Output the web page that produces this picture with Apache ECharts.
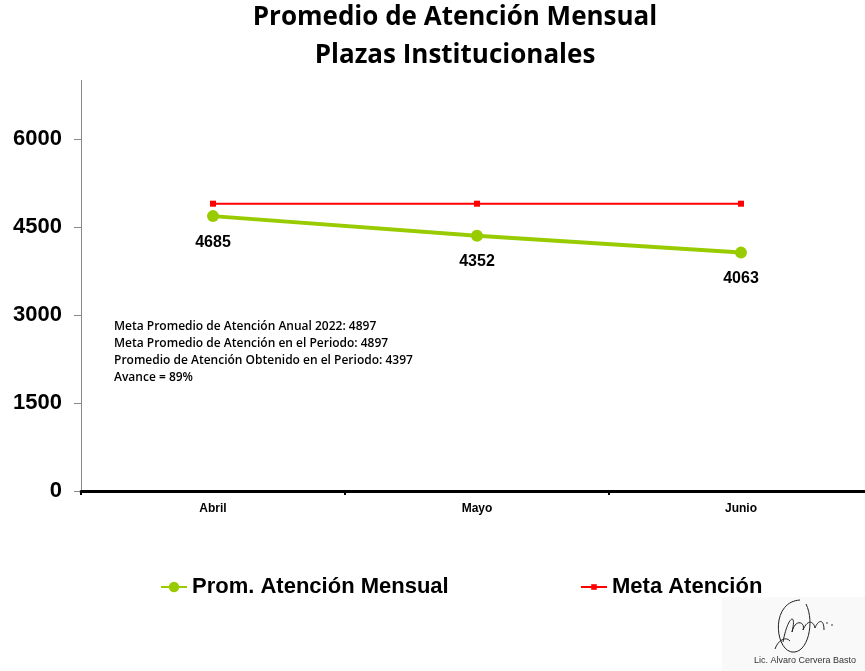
<!DOCTYPE html>
<html>
<head>
<meta charset="utf-8">
<script src="https://cdn.jsdelivr.net/npm/echarts@6/dist/echarts.min.js"></script>
<style>
  html, body { margin: 0; padding: 0; background: #fff; }
  #chart { width: 865px; height: 671px; }
</style>
</head>
<body>
<div id="chart"></div>
<script>
// Monthly average attention vs. target
const months = ['Abril', 'Mayo', 'Junio'];
const promedioMensual = [4685, 4352, 4063];
const metaAtencion = [4897, 4897, 4897];
const yTicks = [0, 1500, 3000, 4500, 6000];
const titleLines = ['Promedio de Atención Mensual', 'Plazas Institucionales'];
const notes = [
  'Meta Promedio de Atención Anual 2022: 4897',
  'Meta Promedio de Atención en el Periodo: 4897',
  'Promedio de Atención Obtenido en el Periodo: 4397',
  'Avance = 89%'
];
const signer = 'Lic. Alvaro Cervera Basto';

const chart = echarts.init(document.getElementById('chart'), null, { renderer: 'canvas' });

const graphics = [];
titleLines.forEach((t, i) => {
  graphics.push({
    type: 'text', x: 455, y: 18 + i * 38,
    style: { text: t, fill: '#000', font: 'bold 26px "Open Sans", sans-serif', textAlign: 'center', textVerticalAlign: 'middle' }
  });
});
notes.forEach((t, i) => {
  graphics.push({
    type: 'text', x: 114, y: 327 + i * 17,
    style: { text: t, fill: '#000', font: '600 12px "Open Sans", sans-serif', textAlign: 'left', textVerticalAlign: 'middle' }
  });
});
// signature block
graphics.push({
  type: 'rect', shape: { x: 722, y: 597, width: 143, height: 74 },
  style: { fill: '#f9f9f9' }, z: -1
});
const strokes = [
  [800, 600, 770, 602, 775, 650, 792, 652],
  [792, 652, 808, 654, 815, 622, 806, 604],
  [783, 642, 788, 615, 797, 612, 792, 632],
  [792, 632, 795, 618, 806, 622, 803, 630],
  [803, 630, 808, 618, 814, 622, 815, 628],
  [815, 628, 818, 620, 824, 618, 824, 630],
  [775, 649, 778, 640, 786, 636, 790, 641]
];
strokes.forEach(s => {
  graphics.push({
    type: 'bezierCurve',
    shape: { x1: s[0], y1: s[1], cpx1: s[2], cpy1: s[3], cpx2: s[4], cpy2: s[5], x2: s[6], y2: s[7] },
    style: { stroke: '#222', lineWidth: 1, fill: null }
  });
});
graphics.push({ type: 'circle', shape: { cx: 827, cy: 623, r: 0.8 }, style: { fill: '#222' } });
graphics.push({ type: 'circle', shape: { cx: 832, cy: 625, r: 0.8 }, style: { fill: '#222' } });
graphics.push({
  type: 'text', x: 805, y: 661,
  style: { text: signer, fill: '#333', font: '9px "Liberation Sans", Arial, sans-serif', textAlign: 'center', textVerticalAlign: 'middle' }
});

const legendText = { fontSize: 22, fontWeight: 'bold', color: '#000', fontFamily: '"Liberation Sans", Arial, sans-serif' };

const option = {
  backgroundColor: '#fff',
  animation: false,
  grid: { left: 81, top: 80.3, bottom: 180, width: 792, containLabel: false, outerBoundsMode: 'none' },
  legend: [
    {
      left: 160, top: 576, padding: 0,
      itemWidth: 26, itemHeight: 13, itemGap: 5,
      textStyle: legendText,
      data: ['Prom. Atención Mensual']
    },
    {
      left: 580, top: 576, padding: 0,
      itemWidth: 26, itemHeight: 7, itemGap: 5,
      textStyle: legendText,
      data: ['Meta Atención']
    }
  ],
  xAxis: {
    type: 'category',
    data: months,
    boundaryGap: true,
    axisLine: { lineStyle: { color: '#000', width: 3 } },
    axisTick: { show: true, alignWithLabel: false, length: 4, lineStyle: { color: '#000', width: 2 } },
    axisLabel: { fontSize: 12, fontWeight: 'bold', color: '#000', margin: 12, fontFamily: '"Liberation Sans", Arial, sans-serif' }
  },
  yAxis: {
    type: 'value',
    min: 0, max: 7000, interval: 1500,
    axisLine: { show: true, lineStyle: { color: '#888', width: 1 } },
    axisTick: { show: true, length: 7, lineStyle: { color: '#888' }, customValues: yTicks },
    axisLabel: {
      fontSize: 22, fontWeight: 'bold', color: '#000', margin: 19,
      fontFamily: '"Liberation Sans", Arial, sans-serif',
      customValues: yTicks,
      formatter: v => String(v)
    },
    splitLine: { show: false }
  },
  series: [
    {
      name: 'Prom. Atención Mensual',
      type: 'line',
      data: promedioMensual,
      symbol: 'circle', symbolSize: 12,
      lineStyle: { color: '#99cc00', width: 4 },
      itemStyle: { color: '#99cc00' },
      label: { show: true, position: 'bottom', distance: 12, fontSize: 16, fontWeight: 'bold', color: '#000', fontFamily: '"Liberation Sans", Arial, sans-serif' },
      z: 3
    },
    {
      name: 'Meta Atención',
      type: 'line',
      data: metaAtencion,
      symbol: 'rect', symbolSize: 6,
      lineStyle: { color: '#ff0000', width: 2 },
      itemStyle: { color: '#ff0000' },
      z: 2
    }
  ],
  graphic: graphics
};
chart.setOption(option);
</script>
</body>
</html>
